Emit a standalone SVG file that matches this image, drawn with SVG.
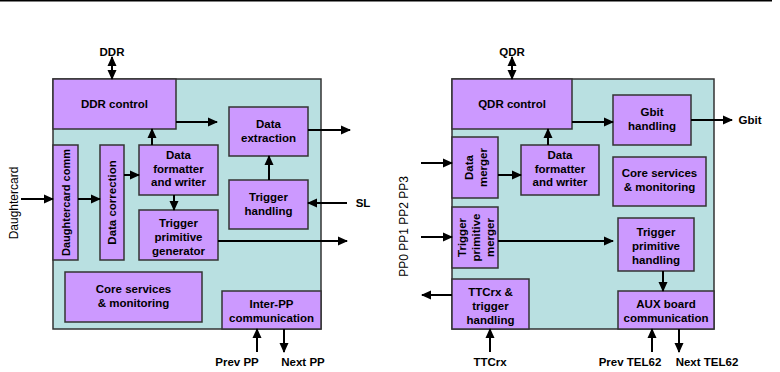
<svg xmlns="http://www.w3.org/2000/svg" width="780" height="372" viewBox="0 0 780 372">
<defs>
<marker id="ah" markerUnits="userSpaceOnUse" markerWidth="10" markerHeight="10" viewBox="0 0 10 10" refX="9" refY="5" orient="auto-start-reverse">
<path d="M0,0.5 L10,5 L0,9.5 Z" fill="#000"/>
</marker>
</defs>
<style>
.panel{fill:#b9e0e1;stroke:#333;stroke-width:1.5}
.box{fill:#cc99ff;stroke:#333;stroke-width:1.5}
text{font-family:"Liberation Sans",Arial,sans-serif;font-size:11.5px;font-weight:bold;fill:#000;text-anchor:middle;dominant-baseline:central}
.ext{font-size:12px;font-weight:normal}
.sm{font-size:11px}
.lbl{font-size:11.5px}
.c line{stroke:#000;stroke-width:2;marker-end:url(#ah)}
.c line.dbl{marker-start:url(#ah)}
</style>
<rect x="0" y="0" width="772" height="1.5" fill="#000"/>
<g id="panel-left"><rect class="panel" x="53" y="79" width="268" height="250"/></g>
<g id="panel-right"><rect class="panel" x="452" y="79" width="262" height="250"/></g>

<g id="ddr-control"><rect class="box" x="53" y="79" width="123" height="50"/><text x="114.5" y="104">DDR control</text></g>
<g id="data-extraction"><rect class="box" x="229" y="107" width="79" height="49"/><text x="268.5" y="124">Data</text><text x="268.5" y="138">extraction</text></g>
<g id="daughtercard-comm"><rect class="box" x="53" y="145" width="25" height="115"/><text class="sm" transform="translate(66,202.5) rotate(-90)">Daughtercard comm</text></g>
<g id="data-correction"><rect class="box" x="100" y="145" width="24" height="115"/><text transform="translate(112,202.5) rotate(-90)">Data correction</text></g>
<g id="data-formatter-l"><rect class="box" x="139" y="145" width="79" height="50"/><text x="178.5" y="155">Data</text><text x="178.5" y="168.5">formatter</text><text x="178.5" y="182">and writer</text></g>
<g id="trigger-handling"><rect class="box" x="229" y="180" width="79" height="49"/><text x="268.5" y="197">Trigger</text><text x="268.5" y="211">handling</text></g>
<g id="tp-generator"><rect class="box" x="139" y="210" width="79" height="50"/><text x="178.5" y="223">Trigger</text><text x="178.5" y="237">primitive</text><text x="178.5" y="251">generator</text></g>
<g id="core-left"><rect class="box" x="65" y="272" width="137" height="50"/><text x="133.5" y="289">Core services</text><text x="133.5" y="303">&amp; monitoring</text></g>
<g id="inter-pp"><rect class="box" x="222" y="291" width="99" height="38"/><text x="271.5" y="304">Inter-PP</text><text x="271.5" y="318">communication</text></g>

<g id="qdr-control"><rect class="box" x="452" y="79" width="120" height="50"/><text x="512" y="104">QDR control</text></g>
<g id="gbit-handling"><rect class="box" x="613" y="95" width="78" height="50"/><text x="652" y="112">Gbit</text><text x="652" y="126">handling</text></g>
<g id="data-merger"><rect class="box" x="452" y="137" width="46" height="61"/><text transform="translate(469,167.5) rotate(-90)">Data</text><text transform="translate(483,167.5) rotate(-90)">merger</text></g>
<g id="data-formatter-r"><rect class="box" x="521" y="145" width="78" height="50"/><text x="560" y="155">Data</text><text x="560" y="168.5">formatter</text><text x="560" y="182">and writer</text></g>
<g id="core-right"><rect class="box" x="613" y="157" width="93" height="49"/><text x="659.5" y="173">Core services</text><text x="659.5" y="187">&amp; monitoring</text></g>
<g id="tp-merger"><rect class="box" x="452" y="207" width="46" height="61"/><text transform="translate(462,237.5) rotate(-90)">Trigger</text><text transform="translate(476,237.5) rotate(-90)">primitive</text><text transform="translate(490,237.5) rotate(-90)">merger</text></g>
<g id="tp-handling"><rect class="box" x="618" y="218" width="76" height="53"/><text x="656" y="232">Trigger</text><text x="656" y="246">primitive</text><text x="656" y="259.5">handling</text></g>
<g id="ttcrx"><rect class="box" x="452" y="279" width="77" height="50"/><text x="490.5" y="292">TTCrx &amp;</text><text x="490.5" y="306">trigger</text><text x="490.5" y="320">handling</text></g>
<g id="aux-board"><rect class="box" x="618" y="291" width="96" height="38"/><text x="666" y="304">AUX board</text><text x="666" y="318">communication</text></g>

<g id="labels">
<text class="lbl" x="112" y="52">DDR</text>
<text class="lbl" x="512" y="52">QDR</text>
<text class="lbl" x="363" y="203">SL</text>
<text class="lbl" x="750" y="120">Gbit</text>
<text class="lbl" x="237" y="362">Prev PP</text>
<text class="lbl" x="303" y="362">Next PP</text>
<text class="lbl" x="490" y="362">TTCrx</text>
<text class="lbl" x="630" y="362">Prev TEL62</text>
<text class="lbl" x="707" y="362">Next TEL62</text>
<text class="ext" transform="translate(14,203) rotate(-90)">Daughtercard</text>
<text class="ext" transform="translate(404,226.5) rotate(-90)">PP0 PP1 PP2 PP3</text>
</g>

<g id="connectors" class="c">
<line class="dbl" x1="112" y1="57" x2="112" y2="79"/>
<line x1="176" y1="122" x2="217" y2="122"/>
<line x1="308" y1="130" x2="350" y2="130"/>
<line x1="152" y1="145" x2="152" y2="129"/>
<line x1="124" y1="175" x2="139" y2="175"/>
<line x1="269" y1="180" x2="269" y2="156"/>
<line x1="347" y1="203" x2="308" y2="203"/>
<line x1="174" y1="195" x2="174" y2="210"/>
<line x1="218" y1="241" x2="347" y2="241"/>
<line x1="21" y1="199" x2="53" y2="199"/>
<line x1="78" y1="199" x2="100" y2="199"/>
<line x1="257" y1="352" x2="257" y2="329"/>
<line x1="284" y1="329" x2="284" y2="352"/>

<line class="dbl" x1="512" y1="57" x2="512" y2="79"/>
<line x1="572" y1="122" x2="613" y2="122"/>
<line x1="691" y1="120" x2="732" y2="120"/>
<line x1="548" y1="145" x2="548" y2="129"/>
<line x1="498" y1="175" x2="521" y2="175"/>
<line x1="421" y1="163" x2="452" y2="163"/>
<line x1="421" y1="237" x2="452" y2="237"/>
<line x1="498" y1="241" x2="613" y2="241"/>
<line x1="663" y1="271" x2="663" y2="291"/>
<line x1="452" y1="295" x2="422" y2="295"/>
<line x1="490" y1="352" x2="490" y2="329"/>
<line x1="652" y1="352" x2="652" y2="329"/>
<line x1="679" y1="329" x2="679" y2="352"/>
</g>
</svg>
